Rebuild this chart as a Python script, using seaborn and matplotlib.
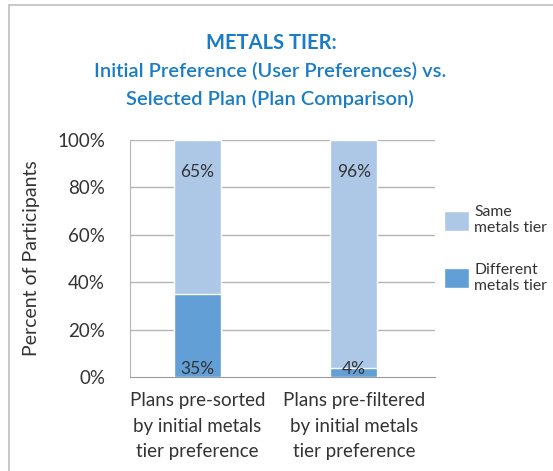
import matplotlib
matplotlib.use("Agg")
import matplotlib.pyplot as plt
import seaborn as sns
import pandas as pd
from matplotlib.patches import Patch
from matplotlib.lines import Line2D

categories = ["Plans pre-sorted\nby initial metals\ntier preference",
              "Plans pre-filtered\nby initial metals\ntier preference"]
same_tier = [65, 96]
different_tier = [35, 4]
series_names = ["Same\nmetals tier", "Different\nmetals tier"]
yticks = [0, 20, 40, 60, 80, 100]

sns.set_style("white")
plt.rcParams['font.family'] = ['Lato', 'DejaVu Sans']

W, H = 553, 471
fig = plt.figure(figsize=(W / 100, H / 100), dpi=100)

def fx(px): return px / W
def fy(py): return 1 - py / H

ax = fig.add_axes([fx(130), fy(377), fx(435) - fx(130), fy(140) - fy(377)])

df = pd.DataFrame({"cat": categories,
                   "total": [s + d for s, d in zip(same_tier, different_tier)],
                   "diff": different_tier,
                   "same": same_tier})

light = "#adc8e7"
dark = "#619fd6"
sns.barplot(data=df, x="cat", y="total", color=light, width=0.30,
            edgecolor="white", linewidth=1, ax=ax, zorder=3, saturation=1)
sns.barplot(data=df, x="cat", y="diff", color=dark, width=0.30,
            edgecolor="white", linewidth=1, ax=ax, zorder=4, saturation=1)

tcol = "#333333"
ax.set_xlim(-0.431, 1.518)
ax.set_ylim(0, 100)
ax.set_yticks(yticks)
ax.set_yticklabels([f"{v}%" for v in yticks], fontsize=13.5, color=tcol)
ax.tick_params(axis="y", length=0, pad=18)
ax.tick_params(axis="x", length=0, pad=11)
ax.set_xticks([0, 1])
ax.set_xticklabels(categories, fontsize=13.5, color=tcol, linespacing=1.6)
ax.set_xlabel("")
ax.set_ylabel("Percent of Participants", fontsize=14, color=tcol, labelpad=12)
for v in yticks[1:]:
    ax.axhline(v, color="#b5b5b5", lw=1, zorder=1)
for s in ["top", "right"]:
    ax.spines[s].set_visible(False)
ax.spines["left"].set_color("#b5b5b5")
ax.spines["bottom"].set_color("#9a9a9a")

for i, (s, d) in enumerate(zip(same_tier, different_tier)):
    ax.text(i, 100 - 13.5, f"{s}%", ha="center", va="center", fontsize=12.5, color=tcol, zorder=5)
    ax.text(i, 3.5, f"{d}%", ha="center", va="center", fontsize=12.5, color=tcol, zorder=5)

handles = [Patch(facecolor=light), Patch(facecolor=dark)]
leg = fig.legend(handles, series_names, loc="upper left", bbox_to_anchor=(fx(438), fy(199)),
                 frameon=False, fontsize=11.3, handlelength=1.6, handleheight=1.6,
                 labelspacing=1.75, handletextpad=0.3, labelcolor=tcol, borderpad=0.4,
                 borderaxespad=0)

tc = "#1a7cc6"
fig.text(fx(271), fy(43), "METALS TIER:", ha="center", va="center", fontsize=14.5, fontweight="bold", color=tc)
fig.text(fx(270), fy(71), "Initial Preference (User Preferences) vs.", ha="center", va="center", fontsize=14.5, fontweight="semibold", color=tc)
fig.text(fx(270), fy(99), "Selected Plan (Plan Comparison)", ha="center", va="center", fontsize=14.5, fontweight="semibold", color=tc)

fig.add_artist(Line2D([fx(8.5), fx(8.5)], [0, fy(5)], color="#c0c0c0", lw=1.2))
fig.add_artist(Line2D([fx(8.5), 1], [fy(5), fy(5)], color="#c0c0c0", lw=1.2))

fig.savefig("out.png", dpi=100)
